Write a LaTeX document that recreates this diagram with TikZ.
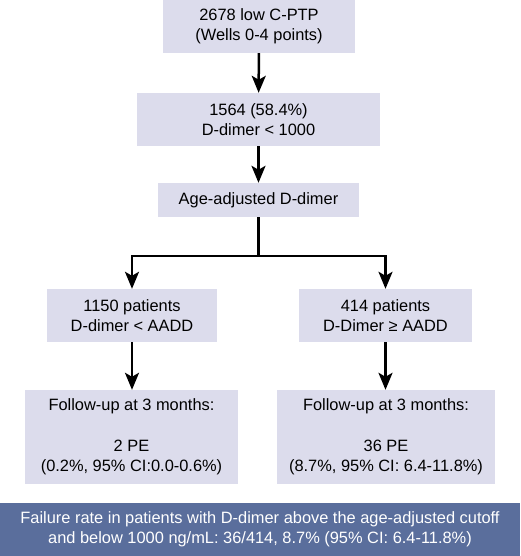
\documentclass[tikz,border=0pt]{standalone}
\usepackage{fontspec}
\setmainfont{Liberation Sans}
\usetikzlibrary{arrows.meta,positioning}
\definecolor{boxfill}{RGB}{220,220,236}
\definecolor{bandfill}{RGB}{90,110,156}
\tikzset{
  box/.style={rectangle, fill=boxfill, align=center, font=\fontsize{16.4}{20.5}\selectfont, inner sep=0pt},
  arr/.style={-{Stealth[length=17pt,width=14pt,inset=4pt]}, line width=2.5pt},
  band/.style={rectangle, fill=bandfill, text=white, align=center, font=\fontsize{16.4}{20}\selectfont, inner sep=0pt},
}

\begin{document}
\begin{tikzpicture}[x=1pt,y=-1pt]
\useasboundingbox (0,0) rectangle (520,556);
\node[box, minimum width=192pt, minimum height=53pt] (ptp) at (259,26.5) {2678 low C-PTP\\(Wells 0-4 points)};
\node[box, minimum width=243pt, minimum height=53pt] (dd) at (258.5,119.5) {1564 (58.4\%)\\D-dimer < 1000};
\node[box, minimum width=201pt, minimum height=34pt] (ad) at (258.5,200) {Age-adjusted D-dimer};
\node[box, minimum width=170pt, minimum height=53pt] (lo) at (132,315.5) {1150 patients\\D-dimer < AADD};
\node[box, minimum width=173pt, minimum height=53pt] (hi) at (385.5,315.5) {414 patients\\D-Dimer ≥ AADD};
\node[box, minimum width=213pt, minimum height=94pt] (flo) at (131.5,437) {Follow-up at 3 months:\\[20.5pt]2 PE\\(0.2\%, 95\% CI:0.0-0.6\%)};
\node[box, minimum width=218pt, minimum height=94pt] (fhi) at (386,437) {Follow-up at 3 months:\\[20.5pt]36 PE\\(8.7\%, 95\% CI: 6.4-11.8\%)};
\node[band, minimum width=520pt, minimum height=53pt] (sum) at (260,529.5) {Failure rate in patients with D-dimer above the age-adjusted cutoff\\and below 1000 ng/mL: 36/414, 8.7\% (95\% CI: 6.4-11.8\%)};
\coordinate (split) at (258.5,256);
\draw[arr] (ptp) -- (dd);
\draw[arr] (dd) -- (ad);
\draw[line width=2.5pt] (ad) -- (split);
\draw[arr] (split) -| (lo);
\draw[arr] (split) -| (hi);
\draw[arr] (lo) -- (lo |- flo.north);
\draw[arr] (hi) -- (hi |- fhi.north);
\end{tikzpicture}
\end{document}
